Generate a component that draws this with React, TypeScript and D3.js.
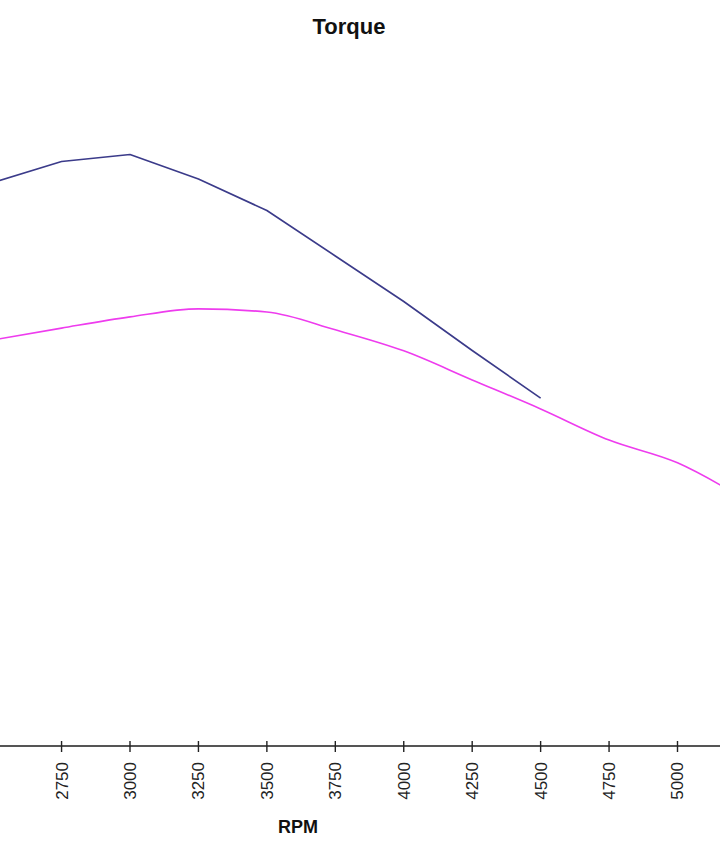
import React from "react";
import * as d3 from "d3";

const rpmTicks = [2500, 2750, 3000, 3250, 3500, 3750, 4000, 4250, 4500, 4750, 5000, 5250];
const blueRpm = [2500, 2750, 3000, 3250, 3500, 3750, 4000, 4250, 4500];
const blueTorque = [261, 267, 269, 262, 253, 240, 227, 213, 199.4];
const pinkRpm = [2500, 2750, 3000, 3250, 3500, 3750, 4000, 4250, 4500, 4750, 5000, 5250];
const pinkTorque = [216, 219.4, 222.6, 224.9, 224, 218.9, 212.9, 204.6, 196.3, 187.4, 180.9, 170.3];

const W = 720;
const H = 845;
const AXIS_Y = 746;

export default function App() {
  const x = d3.scaleLinear().domain([3000, 5000]).range([130, 677.5]);
  const y = d3.scaleLinear().domain([100, 300]).range([AXIS_Y, 46]);

  const lineBlue = d3
    .line<[number, number]>()
    .x((d) => x(d[0]))
    .y((d) => y(d[1]))
    .curve(d3.curveLinear);

  const linePink = d3
    .line<[number, number]>()
    .x((d) => x(d[0]))
    .y((d) => y(d[1]))
    .curve(d3.curveMonotoneX);

  const blue = blueRpm.map((r, i) => [r, blueTorque[i]] as [number, number]);
  const pink = pinkRpm.map((r, i) => [r, pinkTorque[i]] as [number, number]);

  const font = "Arial, 'Liberation Sans', sans-serif";
  const visibleTicks = rpmTicks.filter((t) => x(t) > 10 && x(t) < W - 10);

  return (
    <svg
      width={W}
      height={H}
      style={{ position: "absolute", left: 0, top: 0, background: "#fff" }}
    >
      <rect x={0} y={0} width={W} height={H} fill="#fff" />
      <text
        x={349}
        y={34}
        textAnchor="middle"
        fontFamily={font}
        fontWeight="bold"
        fontSize={22}
        fill="#111"
      >
        Torque
      </text>
      <path d={lineBlue(blue) || ""} fill="none" stroke="#3b3b8a" strokeWidth={1.6} strokeLinejoin="round" />
      <path d={linePink(pink) || ""} fill="none" stroke="#ee3cee" strokeWidth={1.6} />
      <line x1={0} x2={W} y1={AXIS_Y} y2={AXIS_Y} stroke="#555" strokeWidth={1.8} />
      {rpmTicks.map((t) => (
        <line key={`t${t}`} x1={x(t)} x2={x(t)} y1={741} y2={752} stroke="#222" strokeWidth={1.4} />
      ))}
      {visibleTicks.map((t) => (
        <text
          key={`l${t}`}
          transform={`translate(${x(t)},762) rotate(-90)`}
          textAnchor="end"
          dy="0.35em"
          fontFamily={font}
          fontSize={17}
          fill="#222"
        >
          {t}
        </text>
      ))}
      <text
        x={298}
        y={833}
        textAnchor="middle"
        fontFamily={font}
        fontWeight="bold"
        fontSize={18}
        fill="#111"
      >
        RPM
      </text>
    </svg>
  );
}
